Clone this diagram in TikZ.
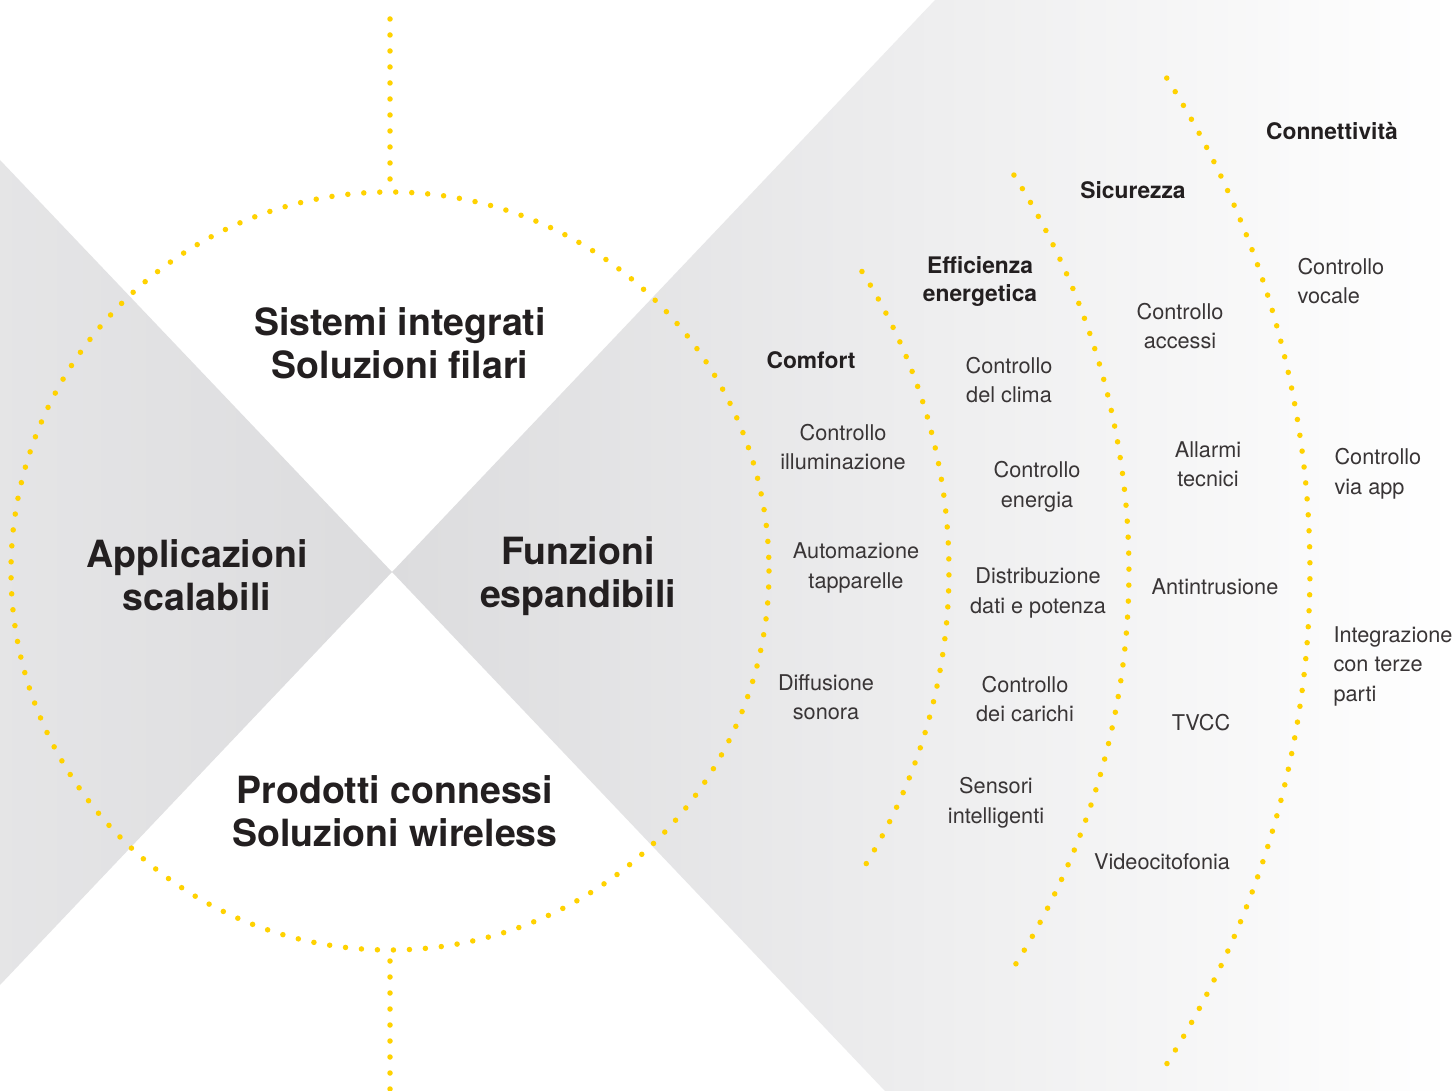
\documentclass[tikz,border=0pt]{standalone}
\usepackage{fontspec}
\setmainfont{TeX Gyre Heros}
\definecolor{dotyellow}{HTML}{FFD200}
\definecolor{fieldgray}{HTML}{DCDCDE}
\definecolor{inkdark}{HTML}{231F20}
\begin{document}
\begin{tikzpicture}[x=1pt,y=-1pt,
  dots/.style={dotyellow,line width=5.5pt,line cap=round,dash pattern=on 0pt off 16pt},
  big/.style={font=\fontsize{37.5}{43}\selectfont\bfseries,text=inkdark,align=center},
  head/.style={font=\fontsize{22.8}{28}\selectfont\bfseries,text=inkdark,align=center},
  item/.style={font=\fontsize{21.7}{29.5}\selectfont,text=inkdark!90,align=center},
  itemleft/.style={item,align=left,anchor=west}]
\useasboundingbox (0,0) rectangle (1455,1091);
\fill[white] (0,0) rectangle (1455,1091);
\shade[left color=fieldgray!75,right color=fieldgray] (0,160)--(392,572)--(0,985)--cycle;
\shade[left color=fieldgray,right color=white] (392,572)--(935,0)--(1455,0)--(1455,1091)--(885,1091)--cycle;
\coordinate (hub) at (390,571);
\draw[dots] (hub) circle[radius=379];
\draw[dots] (390,19)--(390,180);
\draw[dots] (390,961)--(390,1091);
\foreach \r in {559,739,920}
  \draw[dots] ([shift={(-32.4:\r)}]hub) arc[start angle=-32.4,end angle=32.4,radius=\r];
\node[big] (wired) at (400,343) {Sistemi integrati\\Soluzioni filari};
\node[big] (scalable) at (197,575) {Applicazioni\\scalabili};
\node[big] (expand) at (578,576) {Funzioni\\espandibili};
\node[big] (wireless) at (395,811) {Prodotti connessi\\Soluzioni wireless};
\node[head] (comfort) at (811,360) {Comfort};
\node[head] (energy) at (980,281) {Efficienza\\energetica};
\node[head] (security) at (1133,190) {Sicurezza};
\node[head] (connect) at (1332,131) {Connettività};
\node[item] (light) at (843,447) {Controllo\\illuminazione};
\node[item] (blinds) at (856,568) {Automazione\\tapparelle};
\node[item] (sound) at (826,697) {Diffusione\\sonora};
\node[item] (climate) at (1009,380) {Controllo\\del clima};
\node[item] (power) at (1037,487) {Controllo\\energia};
\node[item] (distrib) at (1038,593) {Distribuzione\\dati e potenza};
\node[item] (loads) at (1025,699) {Controllo\\dei carichi};
\node[item] (sensors) at (996,803) {Sensori\\intelligenti};
\node[item] (access) at (1180,326) {Controllo\\accessi};
\node[item] (alarms) at (1208,464) {Allarmi\\tecnici};
\node[item] (intrusion) at (1215,587) {Antintrusione};
\node[item] (cctv) at (1201,723) {TVCC};
\node[item] (intercom) at (1162,862) {Videocitofonia};
\node[itemleft] (voice) at (1294,281) {Controllo\\vocale};
\node[itemleft] (app) at (1331,474) {Controllo\\via app};
\node[itemleft] (thirdp) at (1330,666) {Integrazione\\con terze\\parti};
\end{tikzpicture}
\end{document}
